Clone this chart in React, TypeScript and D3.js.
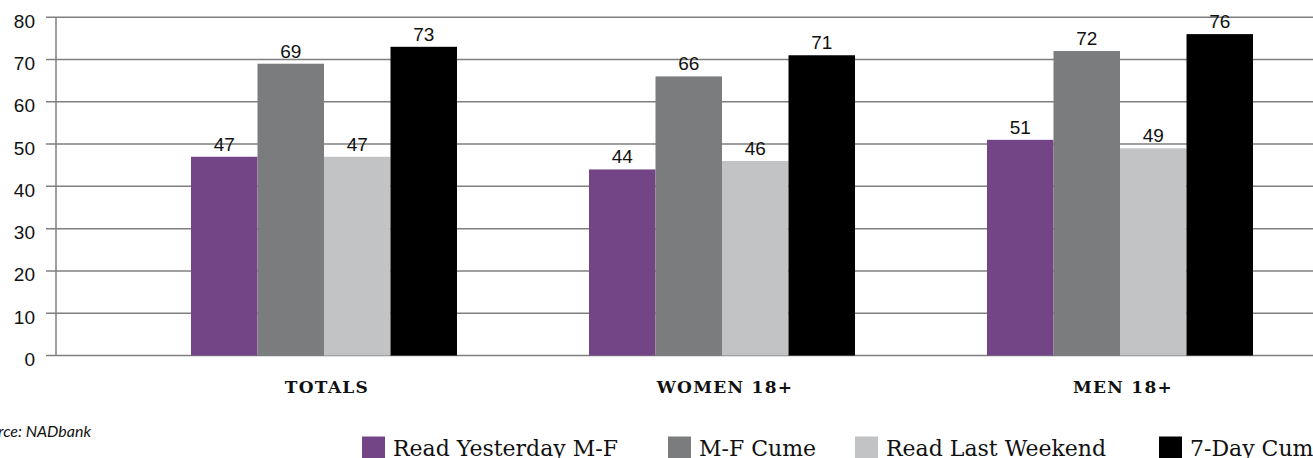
import React from "react";
import * as d3 from "d3";

const categories = ["TOTALS", "WOMEN 18+", "MEN 18+"];
const seriesNames = ["Read Yesterday M-F", "M-F Cume", "Read Last Weekend", "7-Day Cume"];
const readYesterday = [47, 44, 51];
const mfCume = [69, 66, 72];
const readLastWeekend = [47, 46, 49];
const sevenDayCume = [73, 71, 76];
const yTicks = [0, 10, 20, 30, 40, 50, 60, 70, 80];
const sourceNote = "Source: NADbank";

const seriesValues = [readYesterday, mfCume, readLastWeekend, sevenDayCume];
const colors = ["#734586", "#7b7c7e", "#c2c3c5", "#000000"];

const W = 1313;
const H = 458;
const axisX = 56;
const gridLeft = 46;

const sansFont = "'Liberation Sans', Arial, sans-serif";
const serifFont = "'DejaVu Serif', 'Liberation Serif', serif";

export default function App() {
  const y = d3.scaleLinear().domain([0, 80]).range([355.5, 17.2]);
  const x = d3.scalePoint<string>().domain(categories).range([324, 1120]);
  const inner = d3
    .scaleBand<number>()
    .domain(d3.range(seriesNames.length))
    .range([-133, 133]);

  const legendX = [362, 668, 855, 1159];

  return (
    <svg
      width={W}
      height={H}
      style={{ position: "absolute", left: 0, top: 0, background: "#fff" }}
    >
      {/* horizontal gridlines */}
      {yTicks.map((t) => (
        <g key={t}>
          <line
            x1={gridLeft}
            x2={W}
            y1={y(t)}
            y2={y(t)}
            stroke="#7f7f7f"
            strokeWidth={1.5}
          />
          <text
            x={35}
            y={y(t) + 5.5}
            textAnchor="end"
            dominantBaseline="middle"
            fontFamily={sansFont}
            fontSize={19}
            fill="#111"
          >
            {t}
          </text>
        </g>
      ))}
      <line
        x1={axisX}
        x2={axisX}
        y1={y(80)}
        y2={y(0)}
        stroke="#7f7f7f"
        strokeWidth={1.5}
      />

      {/* bars and value labels */}
      {categories.map((c, ci) => (
        <g key={c} transform={`translate(${x(c)},0)`}>
          {seriesValues.map((vals, si) => {
            const v = vals[ci];
            const bx = inner(si)!;
            return (
              <g key={si}>
                <rect
                  x={bx}
                  y={y(v)}
                  width={inner.bandwidth()}
                  height={y(0) - y(v)}
                  fill={colors[si]}
                />
                <text
                  x={bx + inner.bandwidth() / 2}
                  y={y(v) - 6}
                  textAnchor="middle"
                  fontFamily={sansFont}
                  fontSize={19}
                  fill="#111"
                >
                  {v}
                </text>
              </g>
            );
          })}
          <text
            x={3}
            y={393}
            textAnchor="middle"
            fontFamily={serifFont}
            fontWeight="bold"
            fontSize={17}
            letterSpacing={1.3}
            fill="#111"
          >
            {c}
          </text>
        </g>
      ))}

      {/* source note */}
      <text
        x={91}
        y={437}
        textAnchor="end"
        fontFamily={"Lato, 'Open Sans', sans-serif"}
        fontStyle="italic"
        fontSize={16}
        fill="#111"
      >
        {sourceNote}
      </text>

      {/* legend */}
      {seriesNames.map((s, i) => (
        <g key={s} transform={`translate(${legendX[i]},436.5)`}>
          <rect x={0} y={0} width={23} height={23} fill={colors[i]} />
          <text
            x={31}
            y={19.5}
            fontFamily={serifFont}
            fontSize={22}
            fill="#111"
          >
            {s}
          </text>
        </g>
      ))}
    </svg>
  );
}
